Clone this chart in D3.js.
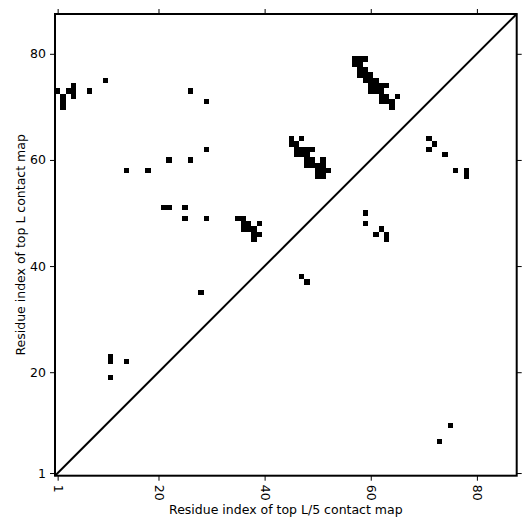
<!DOCTYPE html>
<html>
<head>
<meta charset="utf-8">
<script src="https://cdn.jsdelivr.net/npm/d3@7"></script>
<style>
  body { margin: 0; background: #fff; }
  text { font-family: "DejaVu Sans", sans-serif; }
</style>
</head>
<body>
<div id="chart"></div>
<script>
// sequence length and tick labels
const seqLen = 87;
const tickVals = [1, 20, 40, 60, 80];

// contacts above the diagonal (top L map)
const topLContacts = [
    [1, 73], [2, 72], [2, 71], [2, 70], [3, 73], [4, 74], [4, 73], [4, 72], [7, 73], [10, 75],
    [14, 58], [18, 58], [22, 60], [26, 73], [26, 60], [29, 71], [29, 62],
    [21, 51], [22, 51], [25, 51], [25, 49], [29, 49], [28, 35],
    [11, 23], [11, 22], [11, 19], [14, 22], [47, 38], [48, 37],
    // 35-39 / 45-49 block
    [35, 49], [36, 49], [36, 48], [37, 48], [39, 48], [36, 47], [37, 47], [38, 47],
    [38, 46], [39, 46], [38, 45],
    // 45-52 / 57-64 block
    [45, 64], [47, 64], [45, 63], [46, 63], [46, 62], [47, 62], [48, 62], [49, 62],
    [46, 61], [47, 61], [48, 61], [48, 60], [49, 60], [51, 60],
    [48, 59], [49, 59], [50, 59], [51, 59], [50, 58], [51, 58], [52, 58], [50, 57], [51, 57],
    // 57-65 / 70-79 block
    [57, 79], [58, 79], [59, 79], [57, 78], [58, 78], [58, 77], [59, 77],
    [58, 76], [59, 76], [60, 76], [59, 75], [60, 75], [61, 75],
    [60, 74], [61, 74], [62, 74], [63, 74], [60, 73], [61, 73], [62, 73],
    [62, 72], [63, 72], [65, 72], [62, 71], [63, 71], [64, 71], [64, 70],
    [71, 64], [72, 63], [71, 62], [74, 61], [76, 58], [78, 58], [78, 57]
];

// contacts below the diagonal (top L/5 map)
const topL5Contacts = [
    [59, 50], [59, 48], [61, 46], [62, 47], [63, 46], [63, 45], [75, 10], [73, 7]
];

const margin = { top: 14, right: 14.3, bottom: 55.3, left: 55 },
    width = 531 - margin.left - margin.right,
    height = 531 - margin.top - margin.bottom;

const svg = d3.select("#chart")
    .append("svg")
    .attr("width", 531)
    .attr("height", 531)
    .append("g")
    .attr("transform", `translate(${margin.left},${margin.top})`);

const x = d3.scaleLinear().domain([0.5, seqLen + 0.5]).range([0, width]);
const y = d3.scaleLinear().domain([0.5, seqLen + 0.5]).range([height, 0]);

// contact cells
const cells = topLContacts.concat(topL5Contacts);
svg.append("g")
    .attr("shape-rendering", "crispEdges")
    .selectAll("rect")
    .data(cells)
    .join("rect")
    .attr("x", d => x(d[0] - 0.5))
    .attr("y", d => y(d[1] + 0.5))
    .attr("width", d => x(d[0] + 0.5) - x(d[0] - 0.5))
    .attr("height", d => y(d[1] - 0.5) - y(d[1] + 0.5))
    .attr("fill", "#000");

// diagonal
svg.append("line")
    .attr("x1", x(0.5)).attr("y1", y(0.5))
    .attr("x2", x(seqLen + 0.5)).attr("y2", y(seqLen + 0.5))
    .attr("stroke", "#000")
    .attr("stroke-width", 2);

// axes
const xAxis = svg.append("g")
    .attr("transform", `translate(0,${height})`)
    .call(d3.axisBottom(x).tickValues(tickVals).tickSize(5).tickSizeOuter(0));
xAxis.selectAll("text")
    .attr("y", 0)
    .attr("x", 9)
    .attr("dy", "0.35em")
    .attr("transform", "rotate(90)")
    .style("text-anchor", "start");

const yAxis = svg.append("g")
    .call(d3.axisLeft(y).tickValues(tickVals).tickSize(5).tickSizeOuter(0).tickPadding(4));

svg.append("g")
    .call(d3.axisTop(x).tickValues(tickVals).tickSize(5).tickSizeOuter(0).tickFormat(""));
svg.append("g")
    .attr("transform", `translate(${width},0)`)
    .call(d3.axisRight(y).tickValues(tickVals).tickSize(5).tickSizeOuter(0).tickFormat(""));

svg.selectAll(".domain").remove();
svg.selectAll(".tick text")
    .attr("fill", "#000")
    .style("font-size", "12.5px");
svg.selectAll(".tick line").attr("stroke", "#000");

// frame
svg.append("rect")
    .attr("width", width)
    .attr("height", height)
    .attr("fill", "none")
    .attr("stroke", "#000")
    .attr("stroke-width", 2);

// axis titles
svg.append("text")
    .attr("x", width / 2)
    .attr("y", height + 38.5)
    .attr("text-anchor", "middle")
    .style("font-size", "12.5px")
    .text("Residue index of top L/5 contact map");

svg.append("text")
    .attr("transform", "rotate(-90)")
    .attr("x", -height / 2)
    .attr("y", -30.5)
    .attr("text-anchor", "middle")
    .style("font-size", "12.5px")
    .text("Residue index of top L contact map");
</script>
</body>
</html>
